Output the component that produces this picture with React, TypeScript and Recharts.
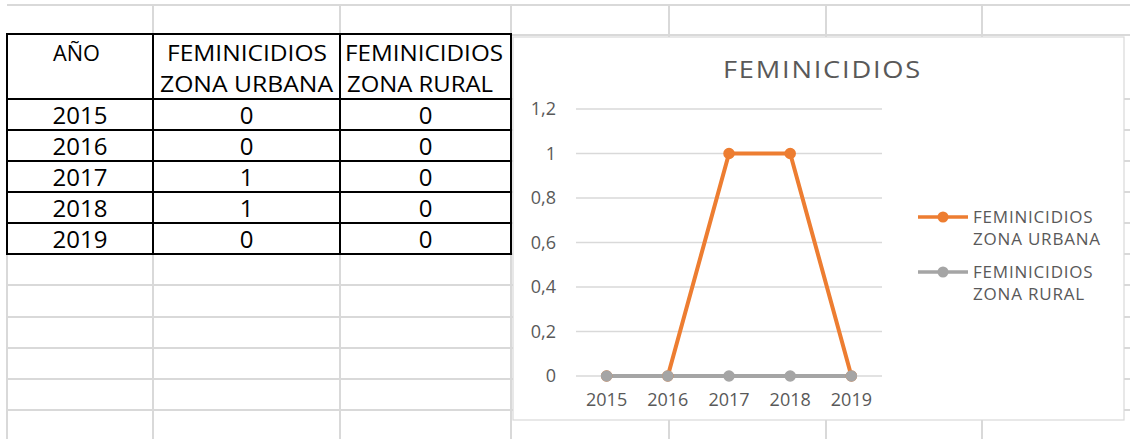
import React from 'react';
import { LineChart, Line, XAxis, YAxis, CartesianGrid, Legend } from 'recharts';

const years = ['2015', '2016', '2017', '2018', '2019'];
const urbana = [0, 0, 1, 1, 0];
const rural = [0, 0, 0, 0, 0];
const yTicks = [0, 0.2, 0.4, 0.6, 0.8, 1, 1.2];
const seriesNames = ['FEMINICIDIOS ZONA URBANA', 'FEMINICIDIOS ZONA RURAL'];
const seriesColors = ['#ED7D31', '#A5A5A5'];
const chartTitle = 'FEMINICIDIOS';
const headerYear = 'AÑO';

const data = years.map((y, i) => ({ year: y, urbana: urbana[i], rural: rural[i] }));

const FONT = '"Open Sans", sans-serif';
const GRID = '#D9D9D9';
const TXT = '#595959';

const hLines = [5, 35, 99, 130, 161, 192, 223, 254, 285, 317, 348, 379, 410];
const vLines = [153, 340, 511, 669, 826, 982];
const tableRows = [99, 130, 161, 192, 223];
const colCenters = [80, 246.5, 425.5];

function splitName(n: string): [string, string] {
  const i = n.indexOf(' ');
  return [n.slice(0, i), n.slice(i + 1)];
}

const LegendContent = (props: any) => {
  const payload = [...(props.payload || [])].sort(
    (a: any, b: any) => seriesNames.indexOf(String(a.value)) - seriesNames.indexOf(String(b.value))
  );
  return (
    <svg width={210} height={110} style={{ display: 'block' }}>
      {payload.map((e: any, i: number) => {
        const [l1, l2] = splitName(String(e.value));
        const y = 17 + i * 55;
        return (
          <g key={i}>
            <line x1={5} x2={55} y1={y} y2={y} stroke={e.color} strokeWidth={3.5} />
            <circle cx={30} cy={y} r={5.5} fill={e.color} />
            <text x={60} y={y + 6} fontFamily={FONT} fontSize={17} fill={TXT} letterSpacing={0.8}>{l1}</text>
            <text x={60} y={y + 27.5} fontFamily={FONT} fontSize={17} fill={TXT} letterSpacing={0.8}>{l2}</text>
          </g>
        );
      })}
    </svg>
  );
};

export default function App() {
  const [h1, h2a] = splitName(seriesNames[0]);
  const [, h3b] = splitName(seriesNames[1]);
  return (
    <div style={{ position: 'absolute', left: 0, top: 0, width: 1130, height: 439, overflow: 'hidden', background: '#fff', fontFamily: FONT }}>
      <svg width={1130} height={439} style={{ position: 'absolute', left: 0, top: 0 }}>
        {hLines.map((y) => (
          <line key={'h' + y} x1={7} x2={1130} y1={y} y2={y} stroke={GRID} strokeWidth={2} />
        ))}
        <line x1={7} x2={7} y1={34} y2={439} stroke={GRID} strokeWidth={2} />
        {vLines.map((x) => (
          <line key={'v' + x} x1={x} x2={x} y1={5} y2={439} stroke={GRID} strokeWidth={2} />
        ))}
        {/* table */}
        <rect x={7} y={34} width={504} height={220} fill="#fff" stroke="#000" strokeWidth={2} />
        {[153, 340].map((x) => (
          <line key={'tv' + x} x1={x} x2={x} y1={34} y2={254} stroke="#000" strokeWidth={2} />
        ))}
        {tableRows.map((y) => (
          <line key={'th' + y} x1={7} x2={511} y1={y} y2={y} stroke="#000" strokeWidth={2} />
        ))}
        <text x={53} y={61} fontFamily={FONT} fontSize={21} fill="#000" textLength={47} lengthAdjust="spacingAndGlyphs">{headerYear}</text>
        <text x={167} y={61} fontFamily={FONT} fontSize={21} fill="#000" textLength={160} lengthAdjust="spacingAndGlyphs">{h1}</text>
        <text x={160} y={92} fontFamily={FONT} fontSize={21} fill="#000" textLength={173} lengthAdjust="spacingAndGlyphs">{h2a}</text>
        <text x={345} y={61} fontFamily={FONT} fontSize={21} fill="#000" textLength={158} lengthAdjust="spacingAndGlyphs">{h1}</text>
        <text x={347} y={92} fontFamily={FONT} fontSize={21} fill="#000" textLength={146} lengthAdjust="spacingAndGlyphs">{h3b}</text>
        {years.map((yr, i) => {
          const base = 99 + i * 31 + 24.5;
          return (
            <g key={yr}>
              <text x={colCenters[0]} y={base} textAnchor="middle" fontFamily={FONT} fontSize={24} fill="#000">{yr}</text>
              <text x={colCenters[1]} y={base} textAnchor="middle" fontFamily={FONT} fontSize={24} fill="#000">{urbana[i]}</text>
              <text x={colCenters[2]} y={base} textAnchor="middle" fontFamily={FONT} fontSize={24} fill="#000">{rural[i]}</text>
            </g>
          );
        })}
        {/* chart box */}
        <rect x={513} y={37} width={611} height={383} fill="#fff" stroke={GRID} strokeWidth={1.2} />
        <text x={723} y={78} fontFamily={FONT} fontSize={23} fill={TXT} letterSpacing={1.5} textLength={199} lengthAdjust="spacingAndGlyphs">{chartTitle}</text>
      </svg>
      <div style={{ position: 'absolute', left: 513, top: 37 }}>
        <LineChart width={611} height={383} data={data} margin={{ top: 72, right: 242, left: 0, bottom: 0 }}>
          <CartesianGrid vertical={false} stroke={GRID} strokeWidth={1.5} />
          <XAxis
            dataKey="year"
            axisLine={false}
            tickLine={false}
            height={44}
            tickMargin={11}
            padding={{ left: 30.6, right: 30.6 }}
            tick={{ fill: TXT, fontSize: 18, fontFamily: FONT }}
            interval={0}
          />
          <YAxis
            width={63}
            domain={[0, 1.2]}
            ticks={yTicks}
            axisLine={false}
            tickLine={false}
            tickMargin={14}
            tickFormatter={(v: number) => String(Math.round(v * 10) / 10).replace('.', ',')}
            tick={{ fill: TXT, fontSize: 18, fontFamily: FONT }}
            interval={0}
          />
          <Legend
            layout="vertical"
            align="center"
            verticalAlign="middle"
            wrapperStyle={{ left: 400, top: 163, width: 210 }}
            content={<LegendContent />}
          />
          <Line
            type="linear"
            dataKey="urbana"
            name={seriesNames[0]}
            stroke={seriesColors[0]}
            strokeWidth={4}
            dot={{ r: 5, fill: seriesColors[0], stroke: seriesColors[0], strokeWidth: 1.5 }}
            activeDot={false}
            isAnimationActive={false}
          />
          <Line
            type="linear"
            dataKey="rural"
            name={seriesNames[1]}
            stroke={seriesColors[1]}
            strokeWidth={4}
            dot={{ r: 5, fill: seriesColors[1], stroke: seriesColors[1], strokeWidth: 1.5 }}
            activeDot={false}
            isAnimationActive={false}
          />
        </LineChart>
      </div>
    </div>
  );
}
